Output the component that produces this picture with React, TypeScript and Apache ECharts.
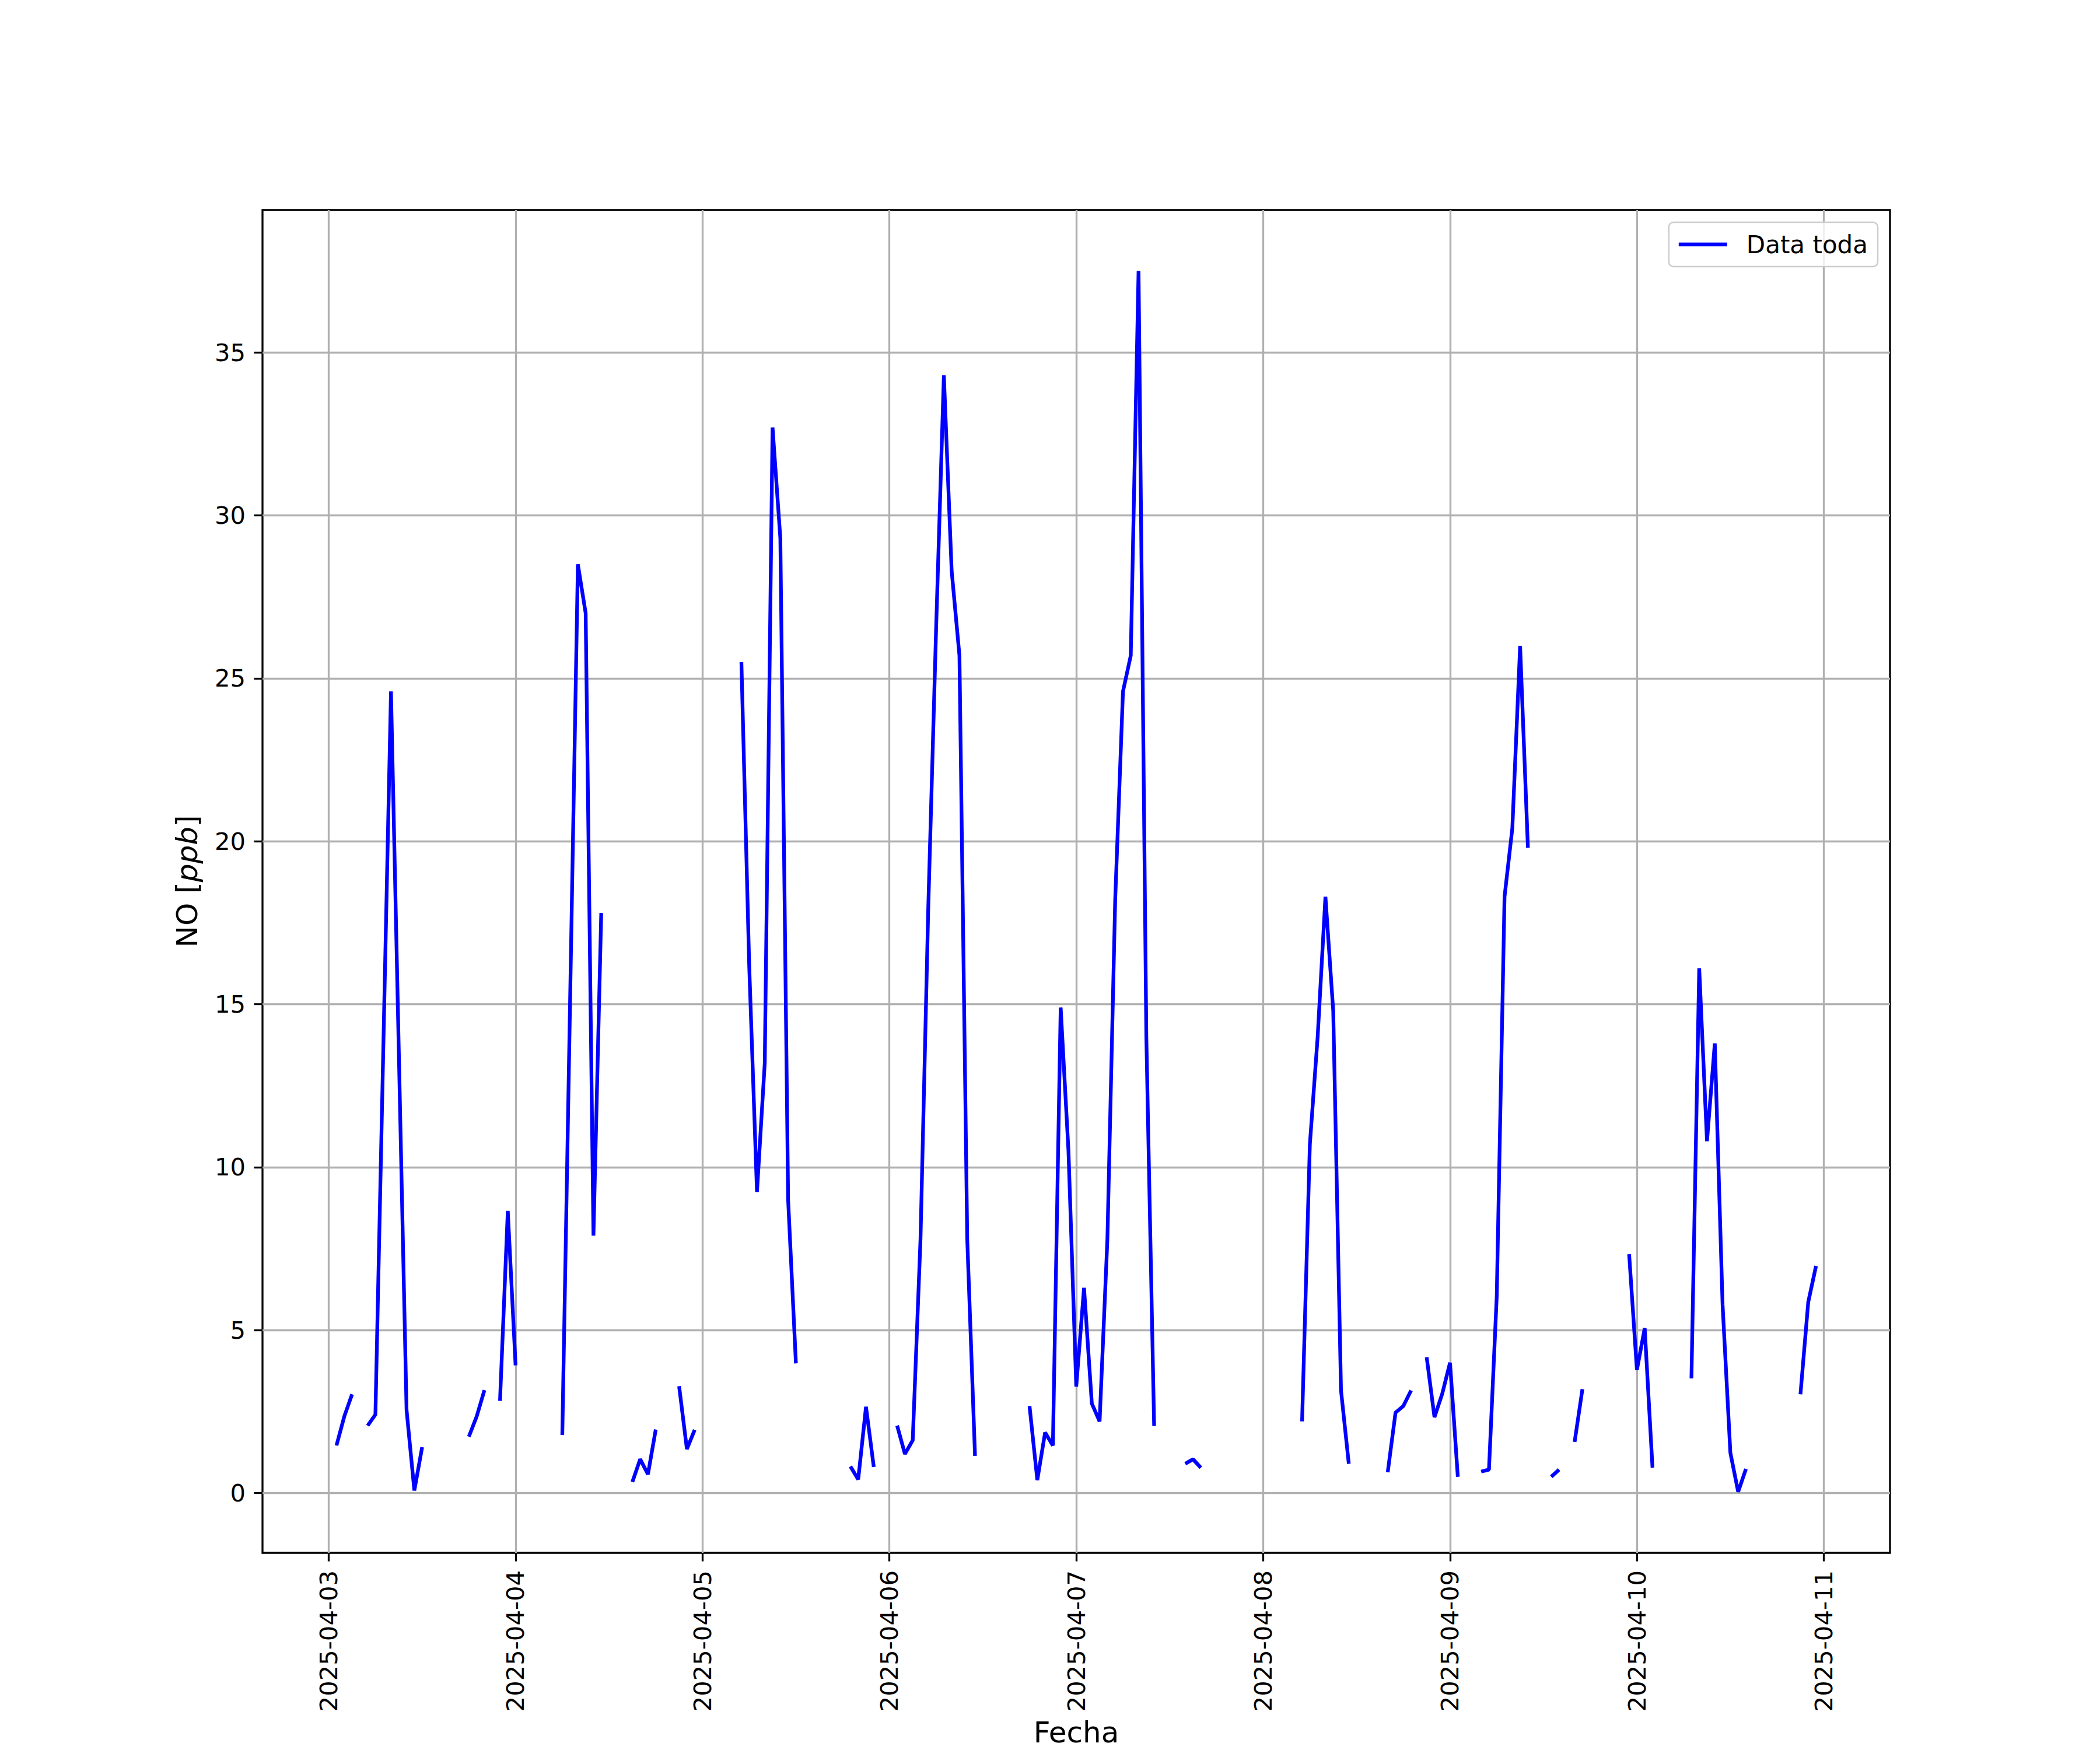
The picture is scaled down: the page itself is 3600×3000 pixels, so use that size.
import React, { useEffect, useRef } from "react";
import * as echarts from "echarts";

// Days covered by the hourly data (hour 0..23 each), null = gap in the record
const dataDays = [
  "2025-04-03",
  "2025-04-04",
  "2025-04-05",
  "2025-04-06",
  "2025-04-07",
  "2025-04-08",
  "2025-04-09",
  "2025-04-10",
];

const no_0403 = [null, 1.46, 2.35, 3.03, null, 2.07, 2.41, 13.5, 24.6, 13.6, 2.55, 0.08, 1.41, null, null, null, null, null, 1.73, 2.35, 3.16, null, 2.83, 8.66];
const no_0404 = [3.92, null, null, null, null, null, 1.78, 15.1, 28.5, 27.0, 7.9, 17.8, null, null, null, 0.34, 1.04, 0.58, 1.95, null, null, 3.28, 1.35, 1.94];
const no_0405 = [null, null, null, null, null, 25.5, 16.2, 9.24, 13.2, 32.7, 29.3, 9.0, 3.98, null, null, null, null, null, null, 0.82, 0.42, 2.65, 0.8, null];
const no_0406 = [null, 2.07, 1.2, 1.62, 7.8, 18.0, 26.5, 34.3, 28.3, 25.7, 7.8, 1.14, null, null, null, null, null, null, 2.67, 0.4, 1.86, 1.46, 14.9, 10.5];
const no_0407 = [3.27, 6.3, 2.75, 2.2, 7.8, 18.2, 24.6, 25.7, 37.5, 14.0, 2.06, null, null, null, 0.9, 1.04, 0.78, null, null, null, null, null, null, null];
const no_0408 = [null, null, null, null, null, 2.2, 10.7, 14.0, 18.3, 14.8, 3.15, 0.9, null, null, null, null, 0.64, 2.47, 2.67, 3.15, null, 4.17, 2.33, 3.05];
const no_0409 = [4.0, 0.5, null, null, 0.66, 0.72, 6.05, 18.3, 20.4, 26.0, 19.8, null, null, 0.5, 0.72, null, 1.57, 3.19, null, null, null, null, null, 7.33];
const no_0410 = [3.78, 5.06, 0.78, null, null, null, null, 3.52, 16.1, 10.8, 13.8, 5.78, 1.24, 0.04, 0.74, null, null, null, null, null, null, 3.03, 5.86, 6.97];

const dayValues = [no_0403, no_0404, no_0405, no_0406, no_0407, no_0408, no_0409, no_0410];

const xTickLabels = [
  "2025-04-03",
  "2025-04-04",
  "2025-04-05",
  "2025-04-06",
  "2025-04-07",
  "2025-04-08",
  "2025-04-09",
  "2025-04-10",
  "2025-04-11",
];
const yTickValues = [0, 5, 10, 15, 20, 25, 30, 35];

const seriesName = "Data toda";
const xMin = "2025-04-02T15:30:00Z";
const xMax = "2025-04-11T08:30:00Z";
const yMin = -1.833;
const yMax = 39.373;

const HOUR = 3600000;
const FONT = "DejaVu Sans";

export default function App() {
  const ref = useRef<HTMLDivElement>(null);

  useEffect(() => {
    document.body.style.margin = "0";
    if (!ref.current) return;
    const chart = echarts.init(ref.current, null, { renderer: "svg" });

    const data: any[] = [];
    dataDays.forEach((d, i) => {
      const t0 = Date.parse(d + "T00:00:00Z");
      dayValues[i].forEach((v, h) => {
        data.push([t0 + h * HOUR, v === null ? null : v]);
      });
    });

    const xTicks = xTickLabels.map((s) => Date.parse(s + "T00:00:00Z"));
    const labelFor = (v: number) => {
      const i = xTicks.findIndex((t) => Math.abs(t - v) < 1000);
      return i >= 0 ? xTickLabels[i] : "";
    };

    chart.setOption({
      animation: false,
      backgroundColor: "#ffffff",
      textStyle: { fontFamily: FONT },
      grid: {
        left: 450,
        right: 360,
        top: 360,
        bottom: 285,
        show: true,
        borderColor: "#000000",
        borderWidth: 3.3,
        backgroundColor: "transparent",
      },
      legend: {
        data: [{ name: seriesName, icon: "rect" }],
        right: 381,
        top: 381,
        orient: "vertical",
        padding: [17, 17, 17, 17],
        itemWidth: 83,
        itemHeight: 6.3,
        borderColor: "#cccccc",
        borderWidth: 2.5,
        borderRadius: 8,
        backgroundColor: "rgba(255,255,255,0.8)",
        textStyle: { fontSize: 42, color: "#000000", fontFamily: FONT, padding: [0, 0, 0, 28] },
      },
      xAxis: {
        type: "value",
        min: Date.parse(xMin),
        max: Date.parse(xMax),
        name: "Fecha",
        nameLocation: "middle",
        nameGap: 283,
        nameTextStyle: { fontSize: 50, color: "#000000", fontFamily: FONT },
        axisLine: { show: false, onZero: false },
        axisTick: {
          show: true,
          customValues: xTicks,
          length: 14.6,
          lineStyle: { color: "#000000", width: 3.3 },
        },
        axisLabel: {
          customValues: xTicks,
          rotate: 90,
          margin: 30,
          fontSize: 41.7,
          color: "#000000",
          fontFamily: FONT,
          formatter: (v: number) => labelFor(v),
        },
        splitLine: { show: true, lineStyle: { color: "#b0b0b0", width: 3.3 } },
      },
      yAxis: {
        type: "value",
        min: yMin,
        max: yMax,
        splitNumber: 8,
        name: "NO [{i|ppb}]",
        nameLocation: "middle",
        nameGap: 104,
        nameTextStyle: {
          fontSize: 50,
          color: "#000000",
          fontFamily: FONT,
          rich: { i: { fontStyle: "italic", fontSize: 50, color: "#000000", fontFamily: FONT } },
        },
        axisLine: { show: false, onZero: false },
        axisTick: {
          show: true,
          customValues: yTickValues,
          length: 14.6,
          lineStyle: { color: "#000000", width: 3.3 },
        },
        axisLabel: {
          customValues: yTickValues,
          margin: 29,
          fontSize: 41.7,
          color: "#000000",
          fontFamily: FONT,
        },
        splitLine: { show: true, lineStyle: { color: "#b0b0b0", width: 3.3 } },
      },
      series: [
        {
          name: seriesName,
          type: "line",
          data,
          symbol: "none",
          showSymbol: false,
          connectNulls: false,
          lineStyle: { color: "#0000ff", width: 6.3 },
          itemStyle: { color: "#0000ff" },
        },
      ],
    });

    return () => chart.dispose();
  }, []);

  return <div ref={ref} style={{ width: 3600, height: 3000 }} />;
}
